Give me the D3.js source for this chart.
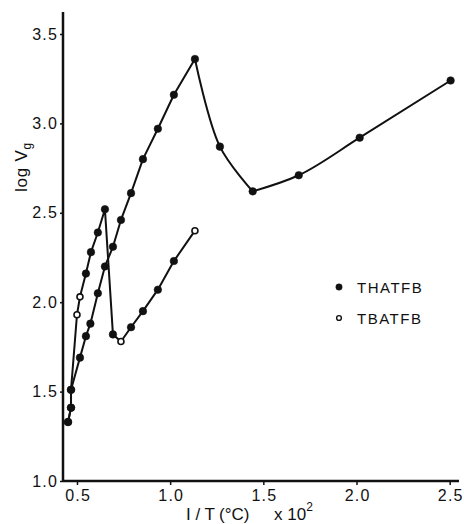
<!DOCTYPE html>
<html>
<head>
<meta charset="utf-8">
<script src="https://cdn.jsdelivr.net/npm/d3@7"></script>
<style>
  html, body { margin: 0; padding: 0; background: #fff; }
  svg { display: block; }
  text { font-family: "Liberation Sans", Arial, sans-serif; fill: #111; }
</style>
</head>
<body>
<svg id="chart" width="464" height="524"></svg>
<script>
// Retention data: log Vg against 1/T (°C) x 10^2
// Upper branch (peak near 1.13), continuing to the right
const upperX = [0.452, 0.468, 0.468, 0.516, 0.548, 0.572, 0.612, 0.650, 0.693, 0.736, 0.790, 0.854, 0.934, 1.020, 1.133, 1.267, 1.443, 1.690, 2.017, 2.505];
const upperY = [1.33, 1.41, 1.51, 1.69, 1.81, 1.88, 2.05, 2.20, 2.31, 2.46, 2.61, 2.80, 2.97, 3.16, 3.36, 2.87, 2.62, 2.71, 2.92, 3.24];
const upperOpen = [false, false, false, false, false, false, false, false, false, false, false, false, false, false, false, false, false, false, false, false];

// Lower branch (sharp peak near 0.65, minimum near 0.73)
const lowerX = [0.452, 0.468, 0.468, 0.500, 0.516, 0.548, 0.575, 0.612, 0.650, 0.693, 0.736, 0.790, 0.854, 0.934, 1.020, 1.133];
const lowerY = [1.33, 1.41, 1.51, 1.93, 2.03, 2.16, 2.28, 2.39, 2.52, 1.82, 1.78, 1.86, 1.95, 2.07, 2.23, 2.40];
const lowerOpen = [false, false, false, true, true, false, false, false, false, false, true, false, false, false, false, true];

const xTicks = [0.5, 1.0, 1.5, 2.0, 2.5];
const yTicks = [1.0, 1.5, 2.0, 2.5, 3.0, 3.5];
const legendLabels = ["THATFB", "TBATFB"];

const svg = d3.select("#chart");
const x = d3.scaleLinear().domain([0.425, 2.55]).range([63, 459]);
const y = d3.scaleLinear().domain([1.0, 3.623]).range([481, 12]);

const pts = (xs, ys, open) => xs.map((v, i) => ({ x: v, y: ys[i], open: open[i] }));
const upper = pts(upperX, upperY, upperOpen);
const lower = pts(lowerX, lowerY, lowerOpen);

// Axes
const xAxis = d3.axisBottom(x).tickValues(xTicks).tickSize(4).tickPadding(5)
  .tickFormat(d3.format(".1f"));
const yAxis = d3.axisLeft(y).tickValues(yTicks).tickSize(3).tickPadding(2)
  .tickFormat(d3.format(".1f"));

const gx = svg.append("g").attr("transform", "translate(0,481)").call(xAxis);
const gy = svg.append("g").attr("transform", "translate(63,0)").call(yAxis);
[gx, gy].forEach(g => {
  g.select(".domain").attr("stroke", "#111").attr("stroke-width", 2.5);
  g.selectAll(".tick line").attr("stroke", "#111").attr("stroke-width", 1.5);
  g.selectAll(".tick text").attr("fill", "#111")
    .style("font-size", "16px").style("letter-spacing", "1.2px")
    .style("font-family", '"Liberation Sans", Arial, sans-serif');
});
gx.selectAll(".tick text").attr("dx", "0.6px");
gx.select(".domain").attr("d", `M63,0H459`);
gy.select(".domain").attr("d", `M0,481V12`);

// Curves
const lineLin = d3.line().x(d => x(d.x)).y(d => y(d.y));
const lineFall = d3.line().x(d => x(d.x)).y(d => y(d.y)).curve(d3.curveCatmullRom);
const lineRise = d3.line().x(d => x(d.x)).y(d => y(d.y)).curve(d3.curveMonotoneX);

const stroke = g => g.attr("fill", "none").attr("stroke", "#111").attr("stroke-width", 2)
  .attr("stroke-linejoin", "round");

const peakIdx = upperY.indexOf(d3.max(upperY));
const minIdx = peakIdx + 2;
svg.append("path").datum(upper.slice(0, peakIdx + 1)).attr("d", lineLin).call(stroke);
svg.append("path").datum(upper.slice(peakIdx, minIdx + 1)).attr("d", lineFall).call(stroke);
svg.append("path").datum(upper.slice(minIdx)).attr("d", lineRise).call(stroke);
svg.append("path").datum(lower).attr("d", lineLin).call(stroke);

// Markers
const drawMarkers = data => svg.append("g").selectAll("circle").data(data).join("circle")
  .attr("cx", d => x(d.x)).attr("cy", d => y(d.y))
  .attr("r", d => d.open ? 3 : 3.8)
  .attr("fill", d => d.open ? "#fff" : "#111")
  .attr("stroke", "#111").attr("stroke-width", d => d.open ? 1.6 : 0.5);
drawMarkers(upper);
drawMarkers(lower);

// Legend
const lg = svg.append("g");
legendLabels.forEach((name, i) => {
  const cy = 287 + i * 31;
  lg.append("circle").attr("cx", 339).attr("cy", cy).attr("r", i === 0 ? 3.2 : 2.4)
    .attr("fill", i === 0 ? "#111" : "#fff").attr("stroke", "#111").attr("stroke-width", i === 0 ? 0.5 : 1.4);
  lg.append("text").attr("x", 357).attr("y", cy + 6).style("font-size", "15px")
    .style("letter-spacing", "1.5px").text(name);
});

// Axis titles
const yl = svg.append("text").attr("transform", "translate(27,167) rotate(-90)")
  .attr("text-anchor", "middle").style("font-size", "17px").style("letter-spacing", "0.8px");
yl.append("tspan").text("log  V");
yl.append("tspan").attr("dy", 4).style("font-size", "12px").text("g");

const xl = svg.append("text").attr("y", 520).style("font-size", "17px");
xl.append("tspan").attr("x", 186).text("I / T");
xl.append("tspan").attr("x", 219).text("(°C)");
xl.append("tspan").attr("x", 274).text("x 10");
xl.append("tspan").attr("dy", -9).style("font-size", "12px").text("2");
</script>
</body>
</html>
